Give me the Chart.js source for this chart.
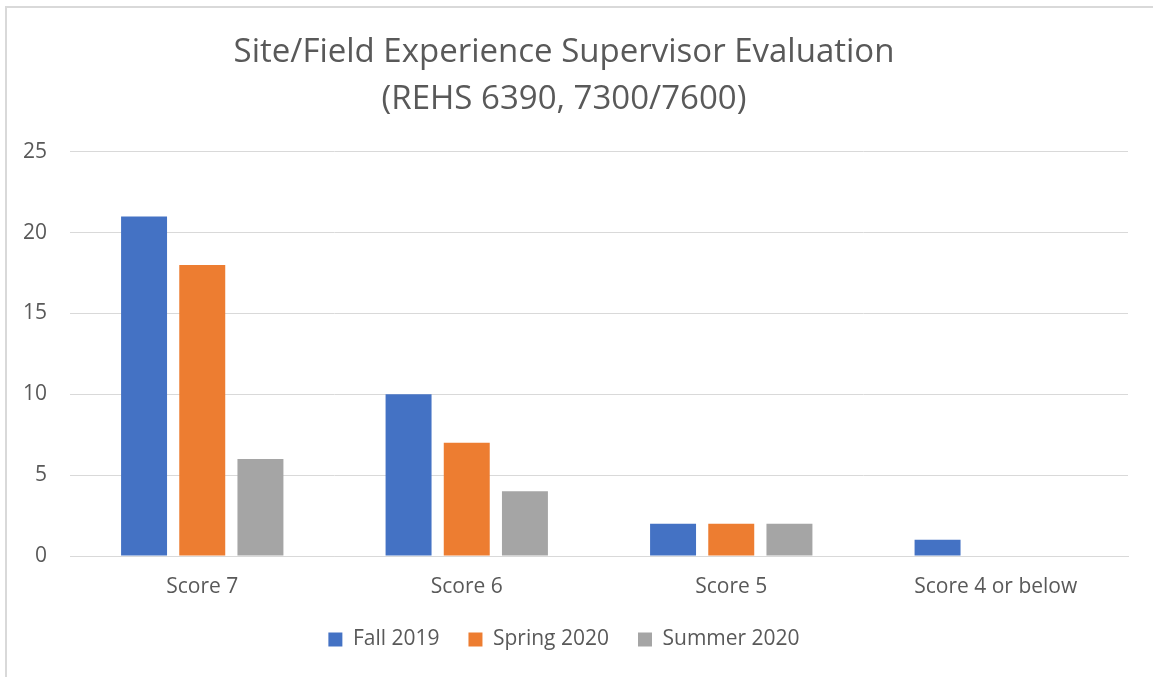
<!DOCTYPE html>
<html>
<head>
<meta charset="utf-8">
<script src="https://cdn.jsdelivr.net/npm/chart.js@4/dist/chart.umd.min.js"></script>
<style>
  html, body { margin: 0; padding: 0; background: #fff; overflow: hidden; }
  #wrap { position: relative; width: 1153px; height: 677px; }
  #frame { position: absolute; left: 5px; top: 6px; width: 1200px; height: 700px;
           border: 2px solid #d9d9d9; pointer-events: none; }
  canvas { position: absolute; left: 0; top: 0; }
</style>
</head>
<body>
<div id="wrap">
  <div id="frame"></div>
  <canvas id="myChart" width="1153" height="677"></canvas>
</div>
<script>
// chart data
const categories = ['Score 7', 'Score 6', 'Score 5', 'Score 4 or below'];
const fall2019 = [21, 10, 2, 1];
const spring2020 = [18, 7, 2, 0];
const summer2020 = [6, 4, 2, 0];
const yTicks = [0, 5, 10, 15, 20, 25];

const textColor = '#595959';
const gridColor = '#d9d9d9';
const fontFamily = '"Open Sans", "Noto Sans", sans-serif';

const ctx = document.getElementById('myChart').getContext('2d');
const myChart = new Chart(ctx, {
  type: 'bar',
  data: {
    labels: categories,
    datasets: [
      { label: 'Fall 2019', data: fall2019, backgroundColor: '#4472C4' },
      { label: 'Spring 2020', data: spring2020, backgroundColor: '#ED7D31' },
      { label: 'Summer 2020', data: summer2020, backgroundColor: '#A5A5A5' }
    ]
  },
  options: {
    responsive: false,
    animation: false,
    devicePixelRatio: 1,
    categoryPercentage: 0.66,
    barPercentage: 0.79,
    layout: { padding: { left: 0, right: 25, top: 0, bottom: 17 } },
    plugins: {
      title: {
        display: true,
        text: ['Site/Field Experience Supervisor Evaluation', '(REHS 6390, 7300/7600)'],
        color: textColor,
        font: { family: fontFamily, size: 33, weight: 'normal', lineHeight: 1.42 },
        padding: { top: 29, bottom: 29 }
      },
      legend: {
        position: 'bottom',
        labels: {
          color: textColor,
          font: { family: fontFamily, size: 21 },
          boxWidth: 14,
          boxHeight: 14,
          padding: 29
        }
      },
      tooltip: { enabled: false }
    },
    scales: {
      x: {
        afterFit: (scale) => { scale.height = 44; },
        grid: { display: false, drawTicks: false },
        border: { color: gridColor, width: 1 },
        ticks: { color: textColor, font: { family: fontFamily, size: 21 }, padding: 18 }
      },
      y: {
        min: 0,
        max: 25,
        afterBuildTicks: (scale) => { scale.ticks = yTicks.map(v => ({ value: v })); },
        afterFit: (scale) => { scale.width = 70; },
        grid: { color: gridColor, lineWidth: 1, drawTicks: false },
        border: { display: false },
        ticks: { color: textColor, font: { family: fontFamily, size: 21 }, padding: 23 }
      }
    }
  }
});
</script>
</body>
</html>
